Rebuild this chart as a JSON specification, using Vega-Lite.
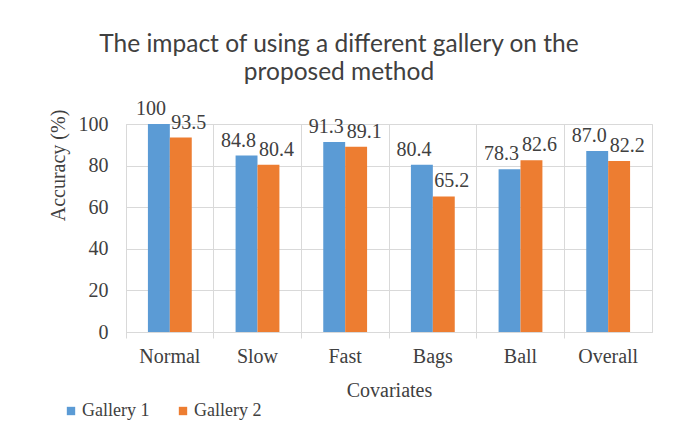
{
  "$schema": "https://vega.github.io/schema/vega-lite/v6.json",
  "width": 526,
  "height": 208,
  "autosize": {"type": "none"},
  "padding": {"left": 126, "top": 124, "right": 26, "bottom": 100},
  "background": "white",
  "title": {
    "text": ["The impact of using a different gallery on the", "proposed method"],
    "font": "Lato",
    "fontSize": 24.5,
    "fontWeight": "normal",
    "color": "#404040",
    "anchor": "middle",
    "dx": -50,
    "offset": 14,
    "lineHeight": 28
  },
  "data": {
    "values": [
      {"covariate": "Normal", "gallery": "Gallery 1", "accuracy": 100, "label": "100"},
      {"covariate": "Normal", "gallery": "Gallery 2", "accuracy": 93.5, "label": "93.5"},
      {"covariate": "Slow", "gallery": "Gallery 1", "accuracy": 84.8, "label": "84.8"},
      {"covariate": "Slow", "gallery": "Gallery 2", "accuracy": 80.4, "label": "80.4"},
      {"covariate": "Fast", "gallery": "Gallery 1", "accuracy": 91.3, "label": "91.3"},
      {"covariate": "Fast", "gallery": "Gallery 2", "accuracy": 89.1, "label": "89.1"},
      {"covariate": "Bags", "gallery": "Gallery 1", "accuracy": 80.4, "label": "80.4"},
      {"covariate": "Bags", "gallery": "Gallery 2", "accuracy": 65.2, "label": "65.2"},
      {"covariate": "Ball", "gallery": "Gallery 1", "accuracy": 78.3, "label": "78.3"},
      {"covariate": "Ball", "gallery": "Gallery 2", "accuracy": 82.6, "label": "82.6"},
      {"covariate": "Overall", "gallery": "Gallery 1", "accuracy": 87.0, "label": "87.0"},
      {"covariate": "Overall", "gallery": "Gallery 2", "accuracy": 82.2, "label": "82.2"}
    ]
  },
  "encoding": {
    "x": {
      "field": "covariate",
      "type": "nominal",
      "sort": ["Normal", "Slow", "Fast", "Bags", "Ball", "Overall"],
      "scale": {"paddingInner": 0, "paddingOuter": 0},
      "axis": {
        "title": "Covariates",
        "titleFont": "Liberation Serif",
        "titleFontSize": 20,
        "titleFontWeight": "normal",
        "titleColor": "#404040",
        "titlePadding": 14,
        "labelFont": "Liberation Serif",
        "labelFontSize": 20,
        "labelColor": "#404040",
        "labelAngle": 0,
        "labelPadding": 8,
        "bandPosition": 0,
        "grid": true,
        "gridColor": "#d9d9d9",
        "gridWidth": 1,
        "ticks": true,
        "tickSize": 6,
        "tickColor": "#d9d9d9",
        "domainColor": "#d9d9d9",
        "domainWidth": 1
      }
    },
    "xOffset": {
      "field": "gallery",
      "type": "nominal",
      "scale": {"paddingInner": 0, "paddingOuter": 1.14}
    },
    "y": {
      "field": "accuracy",
      "type": "quantitative",
      "scale": {"domain": [0, 100], "nice": false},
      "axis": {
        "title": "Accuracy (%)",
        "titleFont": "Liberation Serif",
        "titleFontSize": 20,
        "titleFontWeight": "normal",
        "titleColor": "#404040",
        "titleAlign": "center",
        "titleY": 41,
        "titlePadding": 10,
        "labelFont": "Liberation Serif",
        "labelFontSize": 20,
        "labelColor": "#404040",
        "labelPadding": 18,
        "values": [0, 20, 40, 60, 80, 100],
        "ticks": false,
        "domain": false,
        "grid": true,
        "gridColor": "#d9d9d9",
        "gridWidth": 1
      }
    }
  },
  "layer": [
    {
      "mark": {"type": "bar"},
      "encoding": {
        "color": {
          "field": "gallery",
          "type": "nominal",
          "scale": {"domain": ["Gallery 1", "Gallery 2"], "range": ["#5B9BD5", "#ED7D31"]},
          "legend": {
            "title": null,
            "orient": "none",
            "direction": "horizontal",
            "legendX": -64,
            "legendY": 278,
            "symbolType": "square",
            "symbolSize": 70,
            "symbolStrokeWidth": 0,
            "labelFont": "Liberation Serif",
            "labelFontSize": 18,
            "labelColor": "#404040",
            "labelOffset": 2,
            "columnPadding": 24,
            "padding": 0
          }
        }
      }
    },
    {
      "transform": [{"filter": "datum.gallery === 'Gallery 1'"}],
      "mark": {"type": "text", "font": "Liberation Serif", "fontSize": 20, "color": "#404040", "baseline": "alphabetic", "dy": -9, "dx": -8},
      "encoding": {"text": {"field": "label", "type": "nominal"}}
    },
    {
      "transform": [{"filter": "datum.gallery === 'Gallery 2'"}],
      "mark": {"type": "text", "font": "Liberation Serif", "fontSize": 20, "color": "#404040", "baseline": "alphabetic", "dy": -9, "dx": 8},
      "encoding": {"text": {"field": "label", "type": "nominal"}}
    }
  ],
  "config": {
    "view": {"stroke": "#d9d9d9", "strokeWidth": 1},
    "bar": {"stroke": null}
  }
}
